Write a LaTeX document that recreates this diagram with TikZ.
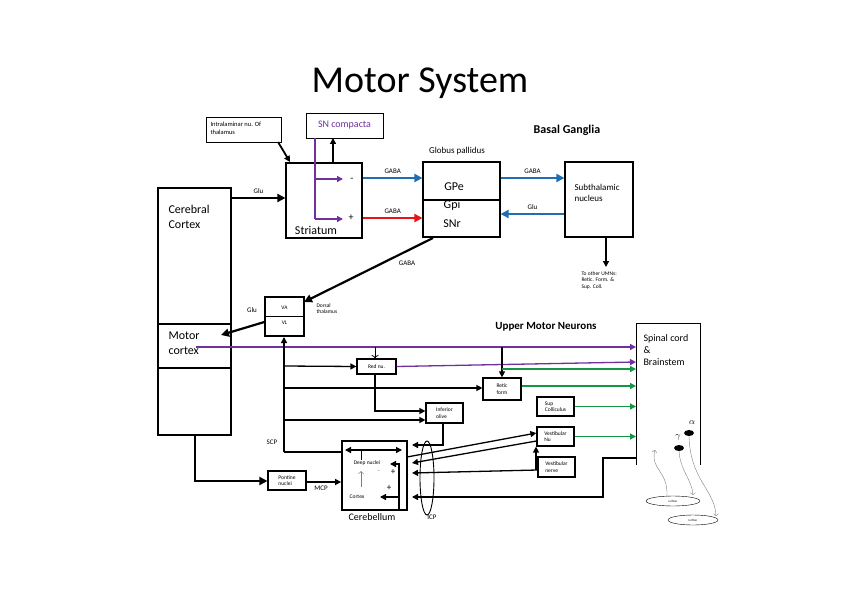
\documentclass[tikz,border=0pt]{standalone}
\usepackage{fontspec}
\setmainfont{Carlito}
\usetikzlibrary{arrows.meta}
\definecolor{umnpurple}{RGB}{112,48,160}
\definecolor{gabablue}{RGB}{31,110,180}
\definecolor{gabared}{RGB}{230,20,20}
\definecolor{umngreen}{RGB}{20,150,70}
\tikzset{
  box/.style={draw,line width=1.2pt,inner sep=0pt},
  thin box/.style={draw,line width=0.9pt,inner sep=0pt},
  fat/.style={line width=2.2pt,-{Triangle[length=8pt,width=8pt]}},
  med/.style={line width=1.3pt,-{Triangle[length=6pt,width=6pt]}},
  tiny/.style={font=\fontsize{5.5}{6.5}\selectfont,align=left},
  lbl/.style={font=\fontsize{7}{8}\selectfont}
}
\begin{document}
\begin{tikzpicture}[x=1pt,y=-1pt]
\useasboundingbox (0,0) rectangle (842,596);

\node (title) at (420,83) {\fontsize{38}{40}\selectfont Motor System};

% basal ganglia
\node[thin box,minimum width=75,minimum height=25] (intra) at (243.5,129.5) {};
\node[font=\fontsize{6.5}{8}\selectfont,align=left,anchor=north west] (intratxt) at (207,118) {Intralaminar nu. Of\\thalamus};
\node[thin box,minimum width=77,minimum height=25,text=umnpurple,font=\fontsize{10}{12}\selectfont] (snc) at (344.5,125.5) {SN compacta};
\node[font=\bfseries\fontsize{12}{14}\selectfont] (bglbl) at (567,130) {Basal Ganglia};
\node[font=\fontsize{9}{10}\selectfont] (gplbl) at (457,151) {Globus pallidus};
\node[box,minimum width=76,minimum height=75] (striatum) at (324,200.5) {};
\node[font=\fontsize{12}{14}\selectfont] (striatumtxt) at (316,230) {Striatum};
\node[box,minimum width=77,minimum height=75] (gp) at (461.5,199.5) {};
\draw[line width=1.2pt] (gp.west |- 0,200) -- (gp.east |- 0,200);
\node[font=\fontsize{12}{14}\selectfont] (gpe) at (454,187) {GPe};
\node[font=\fontsize{12}{14}\selectfont] (gpi) at (452,205) {Gpi};
\node[font=\fontsize{12}{14}\selectfont] (snr) at (452,224) {SNr};
\node[box,minimum width=68,minimum height=75] (stn) at (599,199.5) {};
\node[font=\fontsize{9}{11}\selectfont,align=left,anchor=north west] (stntxt) at (571,181) {Subthalamic\\nucleus};

\draw[line width=1.8pt,-{Triangle[length=6pt,width=6pt]}] (278,142) -- (290,162);
\draw[umnpurple,line width=1.3pt] (315,138) -- (315,219);
\draw[umnpurple,med] (315,179) -- (343,179);
\draw[umnpurple,med] (315,219) -- (343,219);
\node (minus) at (352,180) {-};
\node (plus) at (351,218) {+};
\draw[med] (333,162) -- (333,138);
\draw[gabablue,fat] (363,178) -- (gp.west |- 0,178) node[lbl,black,midway,above] {GABA};
\draw[gabared,fat] (363,218) -- (gp.west |- 0,218) node[lbl,black,midway,above] {GABA};
\draw[gabablue,fat] (gp.east |- 0,178) -- (stn.west |- 0,178) node[lbl,black,midway,above] {GABA};
\draw[gabablue,fat] (stn.west |- 0,214) -- (gp.east |- 0,214) node[lbl,black,midway,above] {Glu};
\draw[med] (606,238) -- (606,267);
\node[tiny,anchor=north west] (umntxt) at (578,268) {To other UMNs:\\Retic. Form. \&\\Sup. Coll.};

% cortex and thalamus
\node[box,minimum width=73,minimum height=247] (cortex) at (194.5,311.5) {};
\draw[line width=1.2pt] (cortex.west |- 0,324) -- (cortex.east |- 0,324);
\draw[line width=1.2pt] (cortex.west |- 0,368) -- (cortex.east |- 0,368);
\node[font=\fontsize{12}{15}\selectfont,align=left,anchor=north west] (cortextxt) at (165,202) {Cerebral\\Cortex};
\node[font=\fontsize{12}{15}\selectfont,align=left,anchor=north west] (motortxt) at (165,328) {Motor\\cortex};
\draw[fat] (cortex.east |- 0,198) -- (striatum.west |- 0,198) node[lbl,midway,above] {Glu};
\node[box,minimum width=39,minimum height=39] (vavl) at (284.5,316.5) {};
\draw[line width=0.9pt] (vavl.west |- 0,316) -- (vavl.east |- 0,316);
\node[tiny] (va) at (284.5,308) {VA};
\node[tiny] (vl) at (284.5,323) {VL};
\node[tiny,anchor=north west] (dorsal) at (313,300) {Dorsal\\thalamus};
\draw[fat] (433,238) -- (304,302);
\node[lbl] (gabadown) at (407,263) {GABA};
\draw[fat] (vavl.west |- 0,322) -- (221,335);
\node[lbl] (glu2) at (252,310) {Glu};

% upper motor neurons
\node[font=\bfseries\fontsize{11}{13}\selectfont] (umnlbl) at (546,327) {Upper Motor Neurons};
\draw[line width=0.9pt] (636,465) -- (636,323) -- (700,323) -- (700,465);
\node[font=\fontsize{10}{12}\selectfont,align=left,anchor=north west] (spinal) at (640,331) {Spinal cord\\\&\\Brainstem};
\coordinate (sc) at (636,347);
\node[box,minimum width=39,minimum height=15] (rednu) at (376.5,366.5) {};
\node[tiny] (rednutxt) at (376.5,366.5) {Red nu.};
\node[box,minimum width=38,minimum height=22] (retic) at (502,389) {};
\node[tiny] (retictxt) at (502,389) {Retic\\form};
\node[box,minimum width=37,minimum height=20] (olive) at (444.5,413) {};
\node[tiny] (olivetxt) at (444.5,413) {Inferior\\olive};
\node[box,minimum width=37,minimum height=19] (supcol) at (555.5,406.5) {};
\node[tiny] (supcoltxt) at (555.5,406.5) {Sup\\Colliculus};
\node[box,minimum width=37,minimum height=19] (vestnu) at (555.5,436.5) {};
\node[tiny] (vestnutxt) at (555.5,436.5) {Vestibular\\Nu};
\node[box,minimum width=37,minimum height=20] (vestnv) at (556.5,467) {};
\node[tiny] (vestnvtxt) at (556.5,467) {Vestibular\\nerve};
\node[box,minimum width=38,minimum height=19] (pontine) at (287,480.5) {};
\node[tiny] (pontinetxt) at (287,480.5) {Pontine\\nuclei};

\draw[umnpurple,med] (196,347) -- (sc);
\draw[umnpurple,med] (rednu.east) -- (636,362);
\draw[line width=0.8pt,->] (375,347) -- (rednu.north -| 375,0);
\draw[med] (502,347) -- (retic.north);
\draw[umngreen,med] (502,369) -- (636,369);
\draw[umngreen,med] (retic.east |- 0,386) -- (636,386);
\draw[umngreen,med] (supcol.east) -- (636,406.5);
\draw[umngreen,med] (vestnu.east) -- (636,436.5);

% cerebellum
\node[box,line width=1.8pt,minimum width=65,minimum height=69] (cereb) at (374.5,475.5) {};
\node[font=\fontsize{10}{12}\selectfont] (cerebtxt) at (372,517) {Cerebellum};
\draw[med] (284,452) -- (284,337);
\draw[line width=1.3pt] (284,452) -- (cereb.west |- 0,452);
\node[lbl] (scp) at (272,442) {SCP};
\draw[med] (284,366) -- (rednu.west);
\draw[med] (284,388) -- (retic.west |- 0,388);
\draw[med] (284,420) -- (olive.west |- 0,420);
\draw[med] (rednu.south -| 375,0) |- (olive.west |- 0,411);
\draw[med] (olive.south -| 443,0) |- (412,445);
\draw[med] (636,458) -- (603,458) |- (412,497);
\draw[med] (407,457) -- (vestnu.west |- 0,433);
\draw[med] (vestnu.west |- 0,441) -- (412,463);
\draw[med] (vestnv.west |- 0,470) -- (412,473);
\draw[med] (536,470) -- (vestnu.south -| 536,0);
\draw[fat] (195,435) |- (pontine.west |- 0,481);
\draw[med] (pontine.east |- 0,482) -- (cereb.west |- 0,482);
\node[lbl] (mcp) at (321,488) {MCP};
\draw[line width=0.9pt] (427,478) ellipse (7 and 37);
\node[lbl] (icp) at (432,517) {ICP};
\draw[line width=1.3pt,{Triangle[length=6pt,width=6pt]}-{Triangle[length=6pt,width=6pt]}] (345,450) -- (402,450);
\draw[line width=0.6pt] (361,450) -- (361,460);
\node[tiny] (deep) at (367,463) {Deep nuclei};
\draw[med] (399,510) -- (399,464) -- (390,464);
\draw[med] (399,497) -- (380,497);
\node[tiny] (cortexsm) at (357,497) {Cortex};
\draw[gray,line width=0.5pt,->] (361,487) -- (361,471);
\node (minus2) at (379,472) {\tiny -};
\node (plus2) at (393,472) {\small +};
\node (plus3) at (389,488) {\small +};

% spindles
\node (alpha) at (692,423) {\small $\alpha$};
\node (gamma) at (678,437) {\small $\gamma$};
\fill (689,433) ellipse (5 and 3);
\fill (679,448) ellipse (5 and 3);
\draw (673,501) ellipse (27 and 5);
\draw (693,520) ellipse (25 and 5);
\node[font=\fontsize{3}{3}\selectfont] (ia1) at (673,501) {Ia fiber};
\node[font=\fontsize{3}{3}\selectfont] (ia2) at (693,520) {Ia fiber};
\draw[gray,->,line width=0.4pt] (667,496) .. controls (668,470) and (650,470) .. (655,450);
\draw[gray,->,line width=0.4pt] (679,451) .. controls (680,470) and (692,480) .. (693,495);
\draw[gray,->,line width=0.4pt] (689,436) .. controls (690,480) and (715,490) .. (716,516);
\end{tikzpicture}
\end{document}
